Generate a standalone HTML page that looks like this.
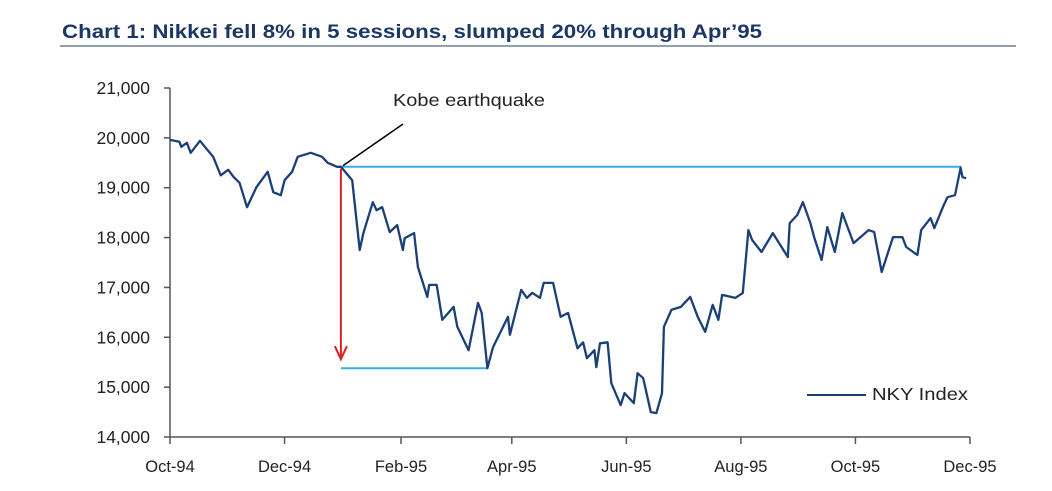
<!DOCTYPE html>
<html><head><meta charset="utf-8"><style>
html,body{margin:0;padding:0;background:#fff;}
svg{display:block;font-family:"Liberation Sans",Arial,sans-serif;}
</style></head><body>
<svg id="c" width="1052" height="491" viewBox="0 0 1052 491">
<text x="62" y="38" font-size="19" font-weight="bold" fill="#1c3766" textLength="700" lengthAdjust="spacingAndGlyphs">Chart 1: Nikkei fell 8% in 5 sessions, slumped 20% through Apr’95</text>
<line x1="60" y1="46" x2="1016" y2="46" stroke="#6d7f99" stroke-width="1.5"/>
<g id="axes"></g>
<g id="plot"></g>
</svg>
<script>
const days = [0,5,6,9,11,16,19,23,27,31,34,37,41,46,52,55,59,61,65,68,75,81,84,89,91,97,101,103,108,110,113,117,121,124,125,130,132,137,138,142,145,151,153,159,164,166,169,172,180,181,187,190,193,197,199,204,208,212,217,220,222,226,227,229,233,235,240,242,247,249,252,256,259,262,263,267,272,277,281,285,289,292,294,301,305,308,310,315,321,325,329,330,334,337,341,343,347,350,354,358,364,372,375,379,385,390,392,398,400,405,407,412,414,418,421,422,424];
const values = [19960,19920,19820,19900,19700,19940,19800,19620,19250,19360,19210,19100,18610,19010,19320,18910,18850,19150,19320,19620,19700,19620,19500,19420,19420,19150,17750,18090,18710,18550,18610,18110,18250,17750,17990,18090,17410,16810,17050,17050,16350,16610,16210,15740,16690,16490,15380,15800,16410,16050,16950,16790,16890,16790,17090,17090,16410,16490,15780,15900,15580,15740,15400,15880,15900,15080,14640,14880,14680,15280,15180,14500,14480,14880,16210,16550,16610,16810,16410,16110,16650,16350,16850,16790,16890,18150,17950,17710,18090,17850,17610,18290,18450,18710,18290,18010,17550,18210,17710,18490,17890,18150,18110,17310,18010,18010,17810,17650,18150,18390,18190,18650,18810,18850,19400,19210,19190];
const yTicks = [14000,15000,16000,17000,18000,19000,20000,21000];
const xTickLabels = ["Oct-94","Dec-94","Feb-95","Apr-95","Jun-95","Aug-95","Oct-95","Dec-95"];
const xTickDays = [0,61,123,182,243,304,365,426];
const kobeDay = 91, kobeValue = 19420, troughDay = 169, troughValue = 15380, recoverDay = 422;

const NS="http://www.w3.org/2000/svg";
const X0=170,X1=970,Y0=437,Y1=88;
const x=d=>X0+d/426*(X1-X0);
const y=v=>Y0-(v-14000)/7000*(Y0-Y1);
const axes=document.getElementById('axes'), plot=document.getElementById('plot');
function mk(tag,attrs,parent){const e=document.createElementNS(NS,tag);for(const k in attrs)e.setAttribute(k,attrs[k]);parent.appendChild(e);return e;}

let e=mk('line',{x1:X0,y1:Y1,x2:X0,y2:Y0,stroke:'#555','stroke-width':1.5},axes);


e=mk('line',{x1:X0,y1:Y0,x2:X1,y2:Y0,stroke:'#555','stroke-width':1.5},axes);


yTicks.forEach(v=>{
  let t=mk('line',{x1:X0-6,y1:y(v),x2:X0,y2:y(v),stroke:'#555','stroke-width':1.5},axes);
  
  
  let l=mk('text',{x:150,y:y(v)+6,'font-size':17.5,'text-anchor':'end',fill:'#222'},axes);
  l.textContent=v.toLocaleString('en-US');
  
  
});
xTickDays.forEach((d,i)=>{
  let t=mk('line',{x1:x(d),y1:Y0,x2:x(d),y2:Y0+7,stroke:'#555','stroke-width':1.5},axes);
  
  
  let l=mk('text',{x:x(d),y:472,'font-size':16.5,'text-anchor':'middle',fill:'#222'},axes);
  l.textContent=xTickLabels[i];
  
  
});
e=mk('line',{x1:x(kobeDay),y1:y(kobeValue),x2:x(recoverDay)-1,y2:y(kobeValue),stroke:'#3aaedc','stroke-width':2},plot);


e=mk('line',{x1:x(kobeDay),y1:y(troughValue),x2:x(troughDay),y2:y(troughValue),stroke:'#3aaedc','stroke-width':2},plot);


const pts=days.map((d,i)=>x(d).toFixed(1)+','+y(values[i]).toFixed(1)).join(' ');
e=mk('polyline',{points:pts,fill:'none',stroke:'#1b3f78','stroke-width':2.3,'stroke-linejoin':'round'},plot);


const ax=x(kobeDay);
e=mk('line',{x1:ax,y1:y(kobeValue)+2,x2:ax,y2:y(troughValue)-10,stroke:'#e02020','stroke-width':2},plot);


e=mk('polyline',{points:`${ax-6},${y(troughValue)-22} ${ax},${y(troughValue)-9} ${ax+6},${y(troughValue)-22}`,fill:'none',stroke:'#e02020','stroke-width':2},plot);


e=mk('line',{x1:ax+2,y1:y(kobeValue)-1,x2:403,y2:124,stroke:'#000','stroke-width':1.5},plot);


e=mk('text',{x:393,y:106,'font-size':17.5,fill:'#222',textLength:152,lengthAdjust:'spacingAndGlyphs'},plot);
e.textContent='Kobe earthquake';


e=mk('line',{x1:807,y1:395,x2:866,y2:395,stroke:'#1b3f78','stroke-width':2},plot);


e=mk('text',{x:872,y:400,'font-size':17.5,fill:'#222',textLength:96,lengthAdjust:'spacingAndGlyphs'},plot);
e.textContent='NKY Index';


</script>
</body></html>
